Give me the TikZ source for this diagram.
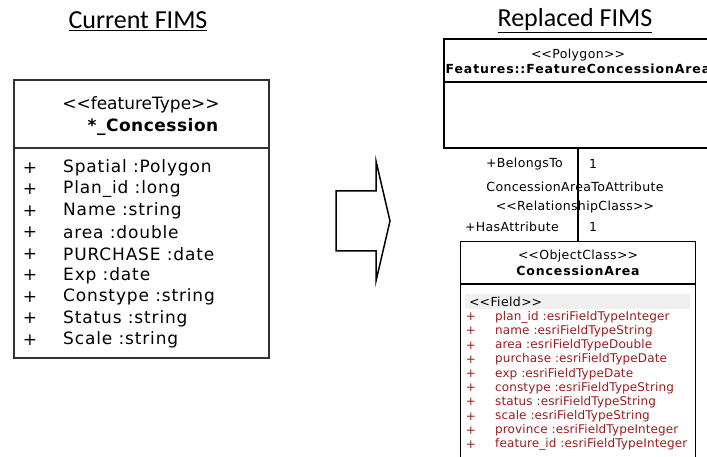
\documentclass[tikz,border=0pt]{standalone}
\usepackage{fontspec}
\setmainfont{DejaVu Sans}
\newfontfamily\slidefont{Carlito}
\usetikzlibrary{positioning}
\definecolor{fieldred}{RGB}{155,28,28}
\definecolor{boxgray}{RGB}{50,50,50}
\newcommand\stereo[1]{<\kern0pt<#1>\kern0pt>}

\begin{document}
\begin{tikzpicture}[x=1pt,y=-1pt,
  heading/.style={font=\slidefont\fontsize{26}{30}\selectfont},
  umlbox/.style={draw,line width=1.2pt,inner sep=0pt},
  bigtxt/.style={inner sep=0pt,font=\fontsize{17}{20}\selectfont\addfontfeature{LetterSpace=5}},
  smalltxt/.style={inner sep=0pt,font=\fontsize{12.5}{14}\selectfont\addfontfeature{LetterSpace=3}},
  classname/.style={inner sep=0pt,font=\bfseries\fontsize{12.5}{14}\selectfont\addfontfeature{LetterSpace=7}},
  field/.style={inner sep=0pt,text=fieldred,font=\fontsize{12}{14}\selectfont\addfontfeature{LetterSpace=1}}]
\useasboundingbox (0,0) rectangle (707,457);

% headings
\node[heading] (curtitle) at (138,21) {\underline{Current FIMS}};
\node[heading] (reptitle) at (575,21) {\underline{Replaced FIMS}};

% current feature type
\node[umlbox,draw=boxgray,line width=2pt,minimum width=255pt,minimum height=278pt] (ftype) at (141.5,219) {};
\coordinate (ftsep) at (0,148);
\draw[boxgray,line width=1.5pt] (ftype.west |- ftsep) -- (ftype.east |- ftsep);
\node[bigtxt,font=\fontsize{17}{20}\selectfont] (ftstereo) at (141,105) {\stereo{featureType}};
\node[bigtxt,font=\bfseries\fontsize{17}{20}\selectfont\addfontfeature{LetterSpace=3}] (ftname) at (153,127) {*\_Concession};
\foreach \nm [count=\i from 0] in {Spatial :Polygon,Plan\_id :long,Name :string,area :double,PURCHASE :date,Exp :date,Constype :string,Status :string,Scale :string}{
  \node[bigtxt] (ftplus\i) at (30,168+21.5*\i) {+};
  \node[bigtxt,anchor=west] (ftattr\i) at (63,168+21.5*\i) {\nm};
}

% block arrow
\draw[line width=1.5pt,line join=miter] (336,191) -- (376,191) -- (376,161) -- (390,221) -- (376,281) -- (376,251) -- (336,251) -- cycle;

% replaced model
\node[umlbox,minimum width=268pt,minimum height=109pt] (poly) at (578,93.5) {};
\coordinate (polysep) at (0,82);
\draw[line width=1.2pt] (poly.west |- polysep) -- (poly.east |- polysep);
\node[smalltxt] (polystereo) at (578,55) {\stereo{Polygon}};
\node[classname] (polyname) at (578,69) {Features::FeatureConcessionArea};

\node[umlbox,minimum width=235pt,minimum height=230pt,anchor=north] (objcls) at (578,241) {};
\coordinate (objsep) at (0,284);
\draw[line width=1.2pt] (objcls.west |- objsep) -- (objcls.east |- objsep);
\node[smalltxt] (objstereo) at (578,256) {\stereo{ObjectClass}};
\node[classname] (objname) at (578,271) {ConcessionArea};

\draw[line width=1.2pt] (poly.south) -- (objcls.north);
\node[smalltxt,anchor=east] (srcrole) at (563,164) {+BelongsTo};
\node[smalltxt] (srcmult) at (593,164) {1};
\node[smalltxt] (relname) at (575,187) {ConcessionAreaToAttribute};
\node[smalltxt] (relstereo) at (575,207) {\stereo{RelationshipClass}};
\node[smalltxt,anchor=east] (dstrole) at (559,227) {+HasAttribute};
\node[smalltxt] (dstmult) at (593,227) {1};

% fields
\fill[black!6] (465,294) rectangle (690,309);
\node[smalltxt,anchor=west] (fieldhdr) at (469,302) {\stereo{Field}};
\foreach \nm [count=\i from 0] in {plan\_id :esriFieldTypeInteger,name :esriFieldTypeString,area :esriFieldTypeDouble,purchase :esriFieldTypeDate,exp :esriFieldTypeDate,constype :esriFieldTypeString,status :esriFieldTypeString,scale :esriFieldTypeString,province :esriFieldTypeInteger,feature\_id :esriFieldTypeInteger}{
  \node[field] (fplus\i) at (471,317+14.2*\i) {+};
  \node[field,anchor=west] (fattr\i) at (495,317+14.2*\i) {\nm};
}
\end{tikzpicture}
\end{document}
